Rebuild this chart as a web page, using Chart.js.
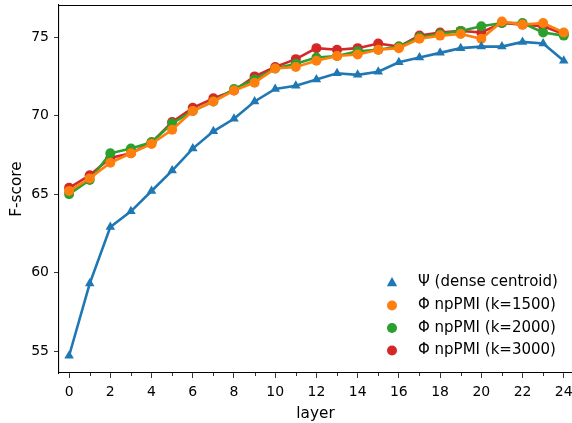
<!DOCTYPE html>
<html><head><meta charset="utf-8">
<script src="https://cdn.jsdelivr.net/npm/chart.js@4/dist/chart.umd.min.js"></script>
<style>html,body{margin:0;padding:0;background:#fff}#wrap{width:572px;height:423px;position:relative}</style>
</head><body><div id="wrap"><canvas id="c" width="572" height="423"></canvas></div>
<script>
const layers = [0,1,2,3,4,5,6,7,8,9,10,11,12,13,14,15,16,17,18,19,20,21,22,23,24];
const seriesLabels = ['Ψ (dense centroid)', 'Φ npPMI (k=1500)', 'Φ npPMI (k=2000)', 'Φ npPMI (k=3000)'];
const psiDense = [54.7,59.3,62.9,63.9,65.2,66.5,67.9,69.0,69.8,70.9,71.7,71.9,72.3,72.7,72.6,72.8,73.4,73.7,74.0,74.3,74.4,74.4,74.7,74.6,73.5];
const phiK1500 = [65.2,66.0,67.0,67.6,68.2,69.1,70.3,70.9,71.6,72.1,73.0,73.1,73.5,73.8,73.9,74.2,74.3,74.9,75.1,75.2,74.9,76.0,75.8,75.9,75.3];
const phiK2000 = [65.0,65.9,67.6,67.9,68.3,69.5,70.3,70.9,71.7,72.3,73.0,73.3,73.7,73.8,74.1,74.2,74.4,75.0,75.2,75.4,75.7,75.9,75.9,75.3,75.1];
const phiK3000 = [65.4,66.2,67.3,67.6,68.3,69.6,70.5,71.1,71.6,72.5,73.1,73.6,74.3,74.2,74.3,74.6,74.4,75.1,75.3,75.4,75.3,75.9,75.8,75.7,75.2];
const xTickValues = [0,2,4,6,8,10,12,14,16,18,20,22,24];
const yTickValues = [55,60,65,70,75];

const colors = ['#1f77b4','#ff7f0e','#2ca02c','#d62728'];
const styles = ['triangle','circle','circle','circle'];
const allSeries = [psiDense, phiK1500, phiK2000, phiK3000];
const FONT = 'DejaVu Sans';

const datasets = allSeries.map((vals,i)=>({
  label: seriesLabels[i],
  data: layers.map((x,j)=>({x:x,y:vals[j]})),
  borderColor: colors[i],
  backgroundColor: colors[i],
  pointStyle: styles[i],
  pointRadius: i===0 ? 5.5 : 5,
  pointBorderWidth: 0,
  borderWidth: 2.6,
  tension: 0
}));

const extras = {
  id: 'extras',
  afterDraw(chart){
    const ctx = chart.ctx, a = chart.chartArea, xs = chart.scales.x;
    ctx.save();
    ctx.strokeStyle = '#000'; ctx.lineWidth = 1.1;
    ctx.beginPath(); ctx.moveTo(a.left, a.top+0.5); ctx.lineTo(a.right, a.top+0.5); ctx.stroke();
    ctx.lineWidth = 0.8;
    for (const x of layers) {
      if (x % 2 === 1) {
        const px = Math.round(xs.getPixelForValue(x)) + 0.5;
        ctx.beginPath(); ctx.moveTo(px, a.bottom); ctx.lineTo(px, a.bottom+3); ctx.stroke();
      }
    }
    const lx = 392, tx = 418, ys = [282.5, 305.5, 328, 350.5];
    ctx.font = '15px "' + FONT + '"';
    ctx.textBaseline = 'middle'; ctx.textAlign = 'left';
    seriesLabels.forEach((lab,i)=>{
      ctx.fillStyle = colors[i];
      if (styles[i]==='triangle') {
        const r = 5.5;
        ctx.beginPath();
        ctx.moveTo(lx, ys[i]-r);
        ctx.lineTo(lx+r*0.95, ys[i]+r*0.7);
        ctx.lineTo(lx-r*0.95, ys[i]+r*0.7);
        ctx.closePath(); ctx.fill();
      } else {
        ctx.beginPath(); ctx.arc(lx, ys[i], 5, 0, Math.PI*2); ctx.fill();
      }
      ctx.fillStyle = '#000';
      ctx.fillText(lab, tx, ys[i]);
    });
    ctx.restore();
  }
};

new Chart(document.getElementById('c'), {
  type: 'line',
  data: { datasets },
  plugins: [extras],
  options: {
    responsive: false,
    animation: false,
    events: [],
    layout: { autoPadding: false, padding: { top: 5, right: 0, left: 0, bottom: 0 } },
    plugins: { legend: { display: false }, tooltip: { enabled: false } },
    scales: {
      x: {
        type: 'linear',
        min: -0.49, max: 24.4,
        afterFit: s => { s.height = 50; s.paddingLeft = 0; s.paddingRight = 0; },
        afterBuildTicks: s => { s.ticks = xTickValues.map(v=>({value:v})); },
        ticks: { color: '#000', font: { family: FONT, size: 14 }, padding: 6, maxRotation: 0, autoSkip: false },
        grid: { display: true, drawOnChartArea: false, drawTicks: true, tickLength: 5, color: '#000', tickWidth: 0.8 },
        border: { display: true, color: '#000', width: 1.1 },
        title: { display: true, text: 'layer', color: '#000', font: { family: FONT, size: 15.3 }, padding: { top: 0, bottom: 0 } }
      },
      y: {
        type: 'linear',
        min: 53.6, max: 77.05,
        afterFit: s => { s.width = 59; s.paddingTop = 0; s.paddingBottom = 0; },
        afterBuildTicks: s => { s.ticks = yTickValues.map(v=>({value:v})); },
        ticks: { color: '#000', font: { family: FONT, size: 14 }, padding: 5 },
        grid: { display: true, drawOnChartArea: false, drawTicks: true, tickLength: 5, color: '#000', tickWidth: 0.8 },
        border: { display: true, color: '#000', width: 1.1 },
        title: { display: true, text: 'F-score', color: '#000', font: { family: FONT, size: 15.3 }, padding: { top: 8, bottom: 4 } }
      }
    }
  }
});
</script></body></html>
